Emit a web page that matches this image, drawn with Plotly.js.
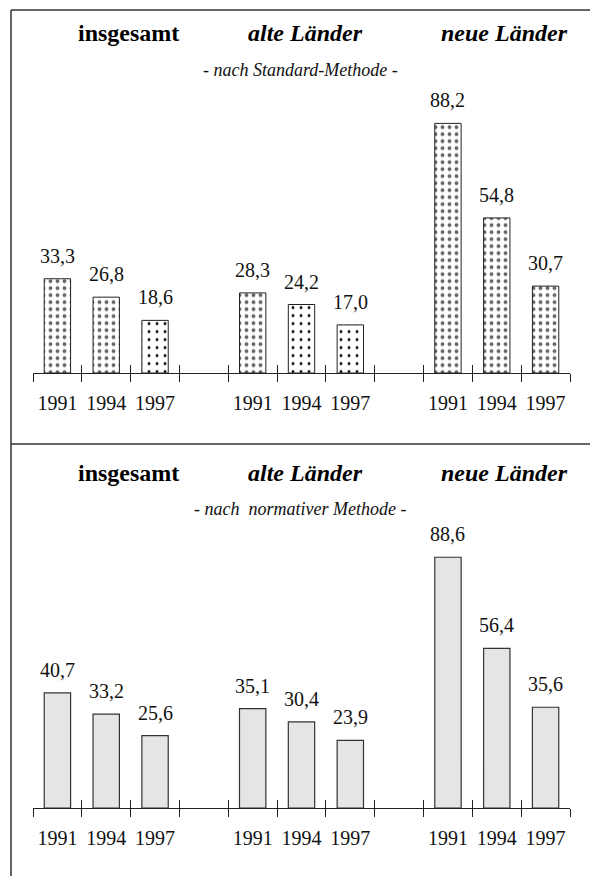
<!DOCTYPE html>
<html>
<head>
<meta charset="utf-8">
<script src="https://cdn.plot.ly/plotly-3.0.1.min.js"></script>
<style>html,body{margin:0;padding:0;background:#fff;}#chart{width:590px;height:876px;}</style>
</head>
<body>
<div id="chart"></div>
<script>
// ---- data ----
const groups = ['insgesamt', 'alte Länder', 'neue Länder'];
const years = ['1991', '1994', '1997'];
const standardValues = [33.3, 26.8, 18.6, 28.3, 24.2, 17.0, 88.2, 54.8, 30.7];
const normativeValues = [40.7, 33.2, 25.6, 35.1, 30.4, 23.9, 88.6, 56.4, 35.6];
const subtitleTop = '- nach Standard-Methode -';
const subtitleBottom = '- nach&nbsp; normativer Methode -';
// pattern kind for the upper bars: 'fine' gray dots or 'coarse' black dots
const standardPattern = ['fine', 'fine', 'coarse', 'fine', 'coarse', 'coarse', 'fine', 'fine', 'fine'];

// ---- helpers ----
const W = 590, H = 876;
const px = v => v / W;
const py = v => 1 - v / H;
const serif = 'Liberation Serif';

// slot positions: 3 bars per group, one empty slot between groups
const xs = [], labels = [];
groups.forEach((g, gi) => years.forEach((y, yi) => { xs.push(gi * 4 + yi + 0.5); labels.push(y); }));
const boundaries = [];
for (let i = 0; i <= 11; i++) boundaries.push(i);
const fmt = v => v.toFixed(1).replace('.', ',');

const xDomain = [px(33), px(570)];
const yRange = [0, 98];
const scale = 2.83;
const topAxisY = 373, botAxisY = 808;
const yDomTop = [py(topAxisY), py(topAxisY - yRange[1] * scale)];
const yDomBot = [py(botAxisY), py(botAxisY - yRange[1] * scale)];

const traces = [
  {
    type: 'bar', x: xs, y: standardValues, xaxis: 'x', yaxis: 'y', width: 0.54,
    hoverinfo: 'skip', showlegend: false,
    marker: {
      color: '#ffffff',
      line: {color: '#222', width: 1},
      pattern: {
        shape: '.',
        fgcolor: standardPattern.map(p => p === 'fine' ? '#666' : '#000'),
        bgcolor: '#ffffff',
        size: standardPattern.map(p => p === 'fine' ? 7 : 8),
        solidity: standardPattern.map(p => p === 'fine' ? 0.24 : 0.1),
        fillmode: 'replace'
      }
    }
  },
  {
    type: 'bar', x: xs, y: normativeValues, xaxis: 'x2', yaxis: 'y2', width: 0.54,
    hoverinfo: 'skip', showlegend: false,
    marker: {color: '#e5e5e5', line: {color: '#333', width: 1.2}}
  }
];
// invisible carriers so the overlaid tick axes get drawn
[['x3', 'y'], ['x4', 'y'], ['x5', 'y2'], ['x6', 'y2']].forEach(([xa, ya]) => traces.push({
  type: 'scatter', mode: 'markers', x: [xs[0]], y: [0], xaxis: xa, yaxis: ya,
  marker: {opacity: 0, size: 1}, hoverinfo: 'skip', showlegend: false
}));

const annotations = [];
function addPanelText(values, xa, ya) {
  values.forEach((v, i) => annotations.push({
    x: xs[i], y: v, xref: xa, yref: ya, text: fmt(v), showarrow: false,
    yanchor: 'bottom', xanchor: 'center', yshift: 10,
    font: {family: serif, size: 20, color: '#111'}
  }));
}
addPanelText(standardValues, 'x', 'y');
addPanelText(normativeValues, 'x2', 'y2');

const titleX = [128, 305, 504];
function addTitles(yTitle, ySub, sub) {
  groups.forEach((g, gi) => annotations.push({
    x: px(titleX[gi]), y: py(yTitle), xref: 'paper', yref: 'paper', showarrow: false,
    xanchor: 'center', yanchor: 'middle',
    text: gi === 0 ? '<b>' + g + '</b>' : '<b><i>' + g + '</i></b>',
    font: {family: serif, size: 24, color: '#000'}
  }));
  annotations.push({
    x: px(300), y: py(ySub), xref: 'paper', yref: 'paper', showarrow: false,
    xanchor: 'center', yanchor: 'middle', text: '<i>' + sub + '</i>',
    font: {family: serif, size: 18, color: '#111'}
  });
}
addTitles(33, 70, subtitleTop);
addTitles(473, 509, subtitleBottom);

function labelAxis(anchor) {
  return {
    domain: xDomain, range: [0, 11], anchor: anchor, fixedrange: true,
    tickmode: 'array', tickvals: xs, ticktext: labels, ticks: '', ticklen: 0,
    showline: true, linecolor: '#222', linewidth: 1, showgrid: false, zeroline: false,
    tickfont: {family: serif, size: 20, color: '#111'}, ticklabelstandoff: 12
  };
}
function tickAxis(over, anchor, dir) {
  return {
    overlaying: over, range: [0, 11], anchor: anchor, fixedrange: true,
    tickmode: 'array', tickvals: boundaries, ticks: dir, ticklen: 8, tickwidth: 1,
    tickcolor: '#222', showticklabels: false, showline: false, showgrid: false, zeroline: false
  };
}
const yAxis = dom => ({domain: dom, range: yRange, visible: false, fixedrange: true});

const layout = {
  width: W, height: H, margin: {l: 0, r: 0, t: 0, b: 0},
  font: {family: serif},
  paper_bgcolor: '#fff', plot_bgcolor: 'rgba(0,0,0,0)', showlegend: false, bargap: 0,
  xaxis: labelAxis('y'), yaxis: yAxis(yDomTop),
  xaxis2: labelAxis('y2'), yaxis2: yAxis(yDomBot),
  xaxis3: tickAxis('x', 'y', 'outside'), xaxis4: tickAxis('x', 'y', 'inside'),
  xaxis5: tickAxis('x2', 'y2', 'outside'), xaxis6: tickAxis('x2', 'y2', 'inside'),
  annotations: annotations,
  shapes: [
    {type: 'line', xref: 'paper', yref: 'paper', x0: px(11), x1: 1, y0: py(10), y1: py(10), line: {color: '#333', width: 1.5}},
    {type: 'line', xref: 'paper', yref: 'paper', x0: px(11), x1: px(11), y0: py(10), y1: 0, line: {color: '#333', width: 1.5}},
    {type: 'line', xref: 'paper', yref: 'paper', x0: px(11), x1: 1, y0: py(444), y1: py(444), line: {color: '#333', width: 1.5}}
  ]
};

Plotly.newPlot('chart', traces, layout, {staticPlot: true, displayModeBar: false});
</script>
</body>
</html>
